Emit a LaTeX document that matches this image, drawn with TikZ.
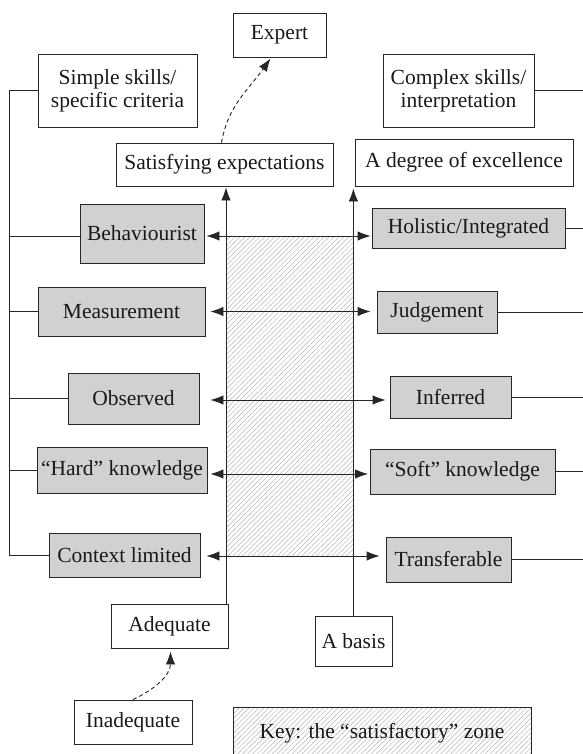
\documentclass[tikz,border=0pt]{standalone}
\usepackage{fontspec}
\setmainfont{Liberation Serif}
\usetikzlibrary{arrows.meta,patterns.meta}
\begin{document}
\begin{tikzpicture}[x=1pt,y=-1pt,
  box/.style={draw=black!85,line width=0.9pt,fill=white,inner sep=0pt,align=center,text=black!90,
    font=\fontsize{21.5}{23}\selectfont},
  gbox/.style={box,fill=black!18},
  lnk/.style={draw=black!85,line width=0.9pt},
  dbl/.style={lnk,{Latex[length=13pt,width=9.5pt]}-{Latex[length=13pt,width=9.5pt]}},
  up/.style={lnk,-{Latex[length=13pt,width=9.5pt]}},
  dsh/.style={lnk,dashed,dash pattern=on 4pt off 3pt,-{Latex[length=13pt,width=9.5pt]}},
  hatch/.style={pattern={Lines[angle=45,distance=3.5pt,line width=0.5pt]},pattern color=black!28}]
\useasboundingbox[fill=white] (0,0) rectangle (582,754);
% hatched zone
\fill[hatch] (226,236) rectangle (353.4,556);
% nodes
\node[box,minimum width=93pt,minimum height=44pt] (exp) at (279.5,35) {Expert};
\node[box,minimum width=159pt,minimum height=73pt] (sim) at (117.5,90.5) {Simple skills/\\specific criteria};
\node[box,minimum width=151pt,minimum height=73pt] (cpx) at (458.5,90.5) {Complex skills/\\interpretation};
\node[box,minimum width=217pt,minimum height=43pt] (sat) at (224.5,164.5) {Satisfying expectations};
\node[box,minimum width=218pt,minimum height=47pt] (deg) at (464,162.5) {A degree of excellence};
\node[gbox,minimum width=124pt,minimum height=59pt] (beh) at (142,233.5) {Behaviourist};
\node[gbox,minimum width=193pt,minimum height=40pt] (hol) at (468.5,228) {Holistic/Integrated};
\node[gbox,minimum width=167pt,minimum height=49pt] (mea) at (121.5,311.5) {Measurement};
\node[gbox,minimum width=120pt,minimum height=42pt] (jud) at (437,312) {Judgement};
\node[gbox,minimum width=131pt,minimum height=51pt] (obs) at (133.5,398.5) {Observed};
\node[gbox,minimum width=121pt,minimum height=42pt] (inf) at (450.5,397) {Inferred};
\node[gbox,minimum width=170pt,minimum height=46pt] (har) at (122,470) {``Hard'' knowledge};
\node[gbox,minimum width=185pt,minimum height=45pt] (sof) at (462.5,471.5) {``Soft'' knowledge};
\node[gbox,minimum width=151pt,minimum height=44pt] (ctx) at (124.5,555) {Context limited};
\node[gbox,minimum width=125pt,minimum height=45pt] (tra) at (448.5,559.5) {Transferable};
\node[box,minimum width=117pt,minimum height=44pt] (adq) at (169.5,626) {Adequate};
\node[box,minimum width=77pt,minimum height=50pt] (bas) at (353.5,641) {A basis};
\node[box,minimum width=118pt,minimum height=44pt] (inq) at (133,722) {Inadequate};
\node[box,hatch,minimum width=298pt,minimum height=53pt] (key) at (382,733.5) {Key: the ``satisfactory'' zone};
% left bracket
\coordinate (lx) at (9,0);
\draw[lnk] (sim.west) -- (sim.west -| lx) -- (ctx.west -| lx) -- (ctx.west);
\draw[lnk] (beh.west |- 0,236) -- (lx |- 0,236);
\draw[lnk] (mea.west) -- (mea.west -| lx);
\draw[lnk] (obs.west) -- (obs.west -| lx);
\draw[lnk] (har.west) -- (har.west -| lx);
% right lines
\coordinate (rx) at (584,0);
\draw[lnk] (cpx.east) -- (cpx.east -| rx);
\draw[lnk] (hol.east) -- (hol.east -| rx);
\draw[lnk] (jud.east) -- (jud.east -| rx);
\draw[lnk] (inf.east) -- (inf.east -| rx);
\draw[lnk] (sof.east) -- (sof.east -| rx);
\draw[lnk] (tra.east) -- (tra.east -| rx);
% vertical arrows
\coordinate (vl) at (226,0);
\coordinate (vr) at (353.4,0);
\draw[up] (adq.north -| vl) -- ([yshift=-1pt]sat.south -| vl);
\draw[up] (bas.north -| vr) -- ([yshift=-2pt]deg.south -| vr);
% double arrows
\draw[dbl] ([xshift=2pt]beh.east |- 0,236) -- ([xshift=-1pt]hol.west |- 0,236);
\draw[dbl,shorten <=5pt,shorten >=6pt] (mea.east) -- (mea.east -| jud.west);
\draw[dbl,shorten <=11pt,shorten >=4pt] (obs.east |- 0,400) -- (inf.west |- 0,400);
\draw[dbl,shorten <=3pt,shorten >=1.5pt] (har.east |- 0,474) -- (sof.west |- 0,474);
\draw[dbl,shorten <=6pt,shorten >=6pt] (ctx.east |- 0,556) -- (tra.west |- 0,556);
% dashed arrows
\draw[dsh] ([xshift=-3pt]sat.north) to[out=80,in=235] ([xshift=-9pt,yshift=-1pt]exp.south);
\draw[dsh] (inq.north) to[out=25,in=270] ([xshift=1pt,yshift=-3pt]adq.south);
\end{tikzpicture}
\end{document}
